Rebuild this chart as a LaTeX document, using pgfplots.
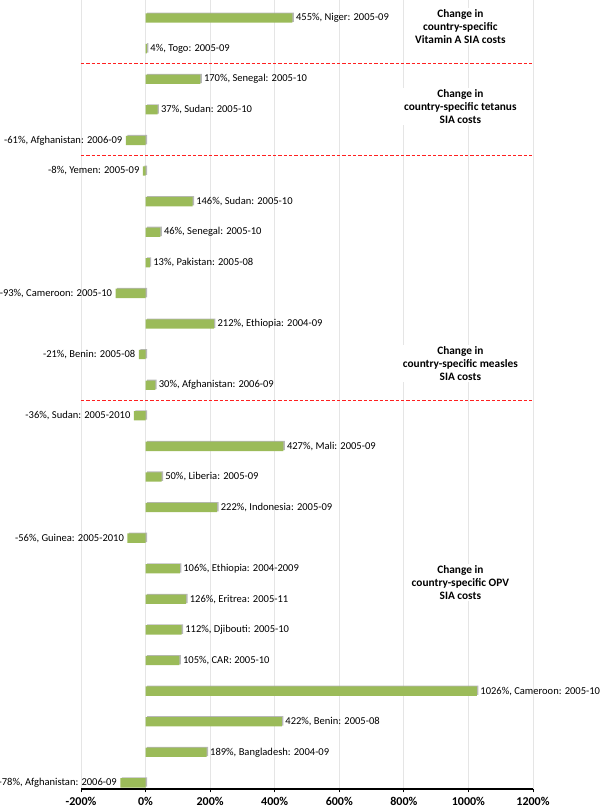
\documentclass[border=0pt]{standalone}
\usepackage{pgfplots}
\pgfplotsset{compat=1.18}
\usepackage{pgfplotstable}
\usepackage{fontspec}
\setmainfont{Carlito}
\definecolor{bargreen}{HTML}{9BBB59}
\definecolor{shadowgray}{HTML}{A6A6A6}
\definecolor{sepred}{HTML}{FF2020}
\pgfplotstableread[col sep=comma]{
y,val,lab
26,455,{455\%, Niger: 2005-09}
25,4,{4\%, Togo: 2005-09}
24,170,{170\%, Senegal: 2005-10}
23,37,{37\%, Sudan: 2005-10}
22,-61,{-61\%, Afghanistan: 2006-09}
21,-8,{-8\%, Yemen: 2005-09}
20,146,{146\%, Sudan: 2005-10}
19,46,{46\%, Senegal: 2005-10}
18,13,{13\%, Pakistan: 2005-08}
17,-93,{-93\%, Cameroon: 2005-10}
16,212,{212\%, Ethiopia: 2004-09}
15,-21,{-21\%, Benin: 2005-08}
14,30,{30\%, Afghanistan: 2006-09}
13,-36,{-36\%, Sudan: 2005-2010}
12,427,{427\%, Mali: 2005-09}
11,50,{50\%, Liberia: 2005-09}
10,222,{222\%, Indonesia: 2005-09}
9,-56,{-56\%, Guinea: 2005-2010}
8,106,{106\%, Ethiopia: 2004-2009}
7,126,{126\%, Eritrea: 2005-11}
6,112,{112\%, Djibouti: 2005-10}
5,105,{105\%, CAR: 2005-10}
4,1026,{1026\%, Cameroon: 2005-10}
3,422,{422\%, Benin: 2005-08}
2,189,{189\%, Bangladesh: 2004-09}
1,-78,{-78\%, Afghanistan: 2006-09}
}\datatable
\begin{document}
\begin{tikzpicture}
\begin{axis}[
  name=ax,
  scale only axis,
  width=339pt, height=591.75pt,
  xmin=-200, xmax=1200,
  ymin=0.8, ymax=26.59,
  clip=false,
  xbar, bar width=7pt, bar shift=0pt,
  axis x line*=bottom,
  axis y line=none,
  x axis line style={black, line width=0.9pt, -},
  xtick={-200,0,200,400,600,800,1000,1200},
  xticklabels={-200\%,0\%,200\%,400\%,600\%,800\%,1000\%,1200\%},
  xticklabel style={font=\fontsize{9pt}{10pt}\selectfont\bfseries, yshift=-0.5pt},
  xtick style={black, line width=0.7pt},
  tick align=outside,
  major tick length=2.5pt,
  xmajorgrids,
  grid style={gray!20, line width=0.6pt},
  ytick=\empty,
]
\addplot[fill=shadowgray, draw=none, opacity=0.8,
  xshift=1.1pt, yshift=0.6pt] table[x=val, y=y] {\datatable};
\addplot[fill=bargreen, draw=none,
  restrict x to domain=0:2000,
  nodes near coords,
  every node near coord/.style={anchor=west, font=\fontsize{7.9pt}{9pt}\selectfont, inner sep=1.5pt, xshift=1pt},
  point meta=explicit symbolic] table[x=val, y=y, meta=lab] {\datatable};
\addplot[fill=bargreen, draw=none,
  restrict x to domain=-2000:-0.001,
  nodes near coords,
  every node near coord/.style={anchor=east, font=\fontsize{7.9pt}{9pt}\selectfont, inner sep=1.5pt, xshift=-1pt},
  point meta=explicit symbolic] table[x=val, y=y, meta=lab] {\datatable};
\draw[color=sepred, line width=0.8pt, dash pattern=on 2.5pt off 1.5pt]
  (axis cs:-200,24.5) -- (axis cs:1200,24.5)
  (axis cs:-200,21.5) -- (axis cs:1200,21.5)
  (axis cs:-200,13.5) -- (axis cs:1200,13.5);
\tikzset{grp/.style={font=\fontsize{8.5pt}{9.8pt}\selectfont\bfseries, align=center, fill=white, inner sep=1pt}}
\node[grp] at (axis cs:975,25.72) {Change in\\country-specific\\Vitamin A SIA costs};
\node[grp] at (axis cs:975,23.12) {Change in\\country-specific tetanus\\SIA costs};
\node[grp] at (axis cs:975,14.72) {Change in\\country-specific measles\\SIA costs};
\node[grp] at (axis cs:975,7.55) {Change in\\country-specific OPV\\SIA costs};
\end{axis}
\pgfresetboundingbox
\useasboundingbox ([xshift=-60.75pt,yshift=-14.25pt]ax.south west) rectangle ++(450pt,606pt);
\end{tikzpicture}
\end{document}
